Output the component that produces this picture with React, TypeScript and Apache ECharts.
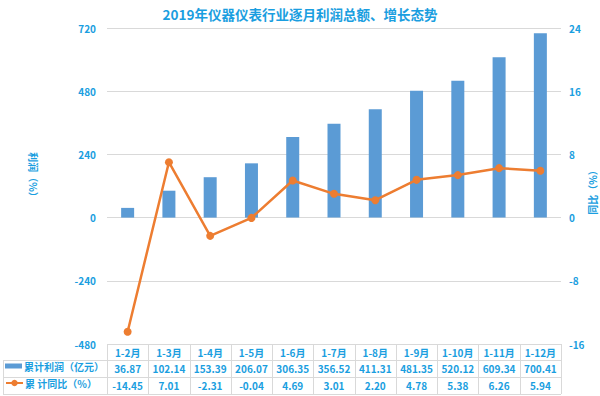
import React, { useEffect, useRef } from "react";
import * as echarts from "echarts";

const months = ["1-2月", "1-3月", "1-4月", "1-5月", "1-6月", "1-7月", "1-8月", "1-9月", "1-10月", "1-11月", "1-12月"];
const profit = [36.87, 102.14, 153.39, 206.07, 306.35, 356.52, 411.31, 481.35, 520.12, 609.34, 700.41];
const growth = [-14.45, 7.01, -2.31, -0.04, 4.69, 3.01, 2.2, 4.78, 5.38, 6.26, 5.94];
const profitName = "累计利润（亿元）";
const growthName = "累 计同比（%）";

const TXT = "#1a9ee0";
const FONT = "'Noto Sans CJK SC', 'Open Sans', sans-serif";
const GRID_L = 107;
const GRID_R = 561;
const GRID_T = 28;
const GRID_B = 344;
const ROW1 = 360;
const ROW2 = 377;
const ROW3 = 394;
const LINE_C = "#d9d9d9";

export default function App() {
  const ref = useRef<HTMLDivElement>(null);
  useEffect(() => {
    if (!ref.current) return;
    const chart = echarts.init(ref.current, undefined, { renderer: "svg" });
    const colW = (GRID_R - GRID_L) / months.length;
    const tableLines: any[] = [];
    const ls = { stroke: LINE_C, lineWidth: 1 };
    tableLines.push({ type: "line", shape: { x1: GRID_L, y1: GRID_B + 0.5, x2: GRID_R, y2: GRID_B + 0.5 }, style: ls });
    [ROW1, ROW2, ROW3].forEach((y) =>
      tableLines.push({ type: "line", shape: { x1: 3, y1: y + 0.5, x2: GRID_R, y2: y + 0.5 }, style: ls })
    );
    tableLines.push({ type: "line", shape: { x1: 3.5, y1: ROW1, x2: 3.5, y2: ROW3 }, style: ls });
    for (let i = 0; i <= months.length; i++) {
      const x = Math.round(GRID_L + i * colW) + 0.5;
      tableLines.push({ type: "line", shape: { x1: x, y1: GRID_B, x2: x, y2: ROW3 }, style: ls });
    }
    const axisLabelBase = { color: TXT, fontSize: 10, fontFamily: FONT, fontWeight: 600 };
    const catAxis = (data: any[], offset: number) => ({
      type: "category",
      data,
      position: "bottom",
      offset,
      gridIndex: 0,
      axisLine: { show: false },
      axisTick: { show: false },
      axisLabel: { ...axisLabelBase, margin: 3, interval: 0 },
    });
    chart.setOption({
      animation: false,
      backgroundColor: "#ffffff",
      title: {
        text: "2019年仪器仪表行业逐月利润总额、增长态势",
        left: "center",
        top: 2,
        textStyle: { color: TXT, fontSize: 13.5, fontWeight: "bold", fontFamily: FONT },
      },
      legend: [
        {
          data: [profitName],
          orient: "vertical",
          left: 5,
          top: 361,
          padding: 0,
          itemWidth: 17,
          itemHeight: 5,
          icon: "rect",
          textStyle: { ...axisLabelBase, padding: [0, 0, 0, -3] },
        },
        {
          data: [growthName],
          orient: "vertical",
          left: 5,
          top: 378,
          padding: 0,
          itemWidth: 17,
          itemHeight: 8,
          textStyle: { ...axisLabelBase, padding: [0, 0, 0, -3] },
        },
      ],
      grid: { left: GRID_L, right: 600 - GRID_R, top: GRID_T, bottom: 396 - GRID_B },
      xAxis: [
        catAxis(months, 0),
        catAxis(profit.map((v) => v.toFixed(2)), 16),
        catAxis(growth.map((v) => v.toFixed(2)), 33),
      ],
      yAxis: [
        {
          type: "value",
          min: -480,
          max: 720,
          interval: 240,
          axisLine: { show: false },
          axisTick: { show: false },
          splitLine: { lineStyle: { color: LINE_C } },
          axisLabel: { ...axisLabelBase, margin: 11 },
        },
        {
          type: "value",
          min: -16,
          max: 24,
          interval: 8,
          position: "right",
          axisLine: { show: false },
          axisTick: { show: false },
          splitLine: { show: false },
          axisLabel: { ...axisLabelBase, margin: 8 },
        },
      ],
      series: [
        {
          name: profitName,
          type: "bar",
          data: profit,
          barWidth: 13,
          xAxisIndex: 0,
          yAxisIndex: 0,
          itemStyle: { color: "#5b9bd5" },
        },
        {
          name: growthName,
          type: "line",
          data: growth,
          xAxisIndex: 0,
          yAxisIndex: 1,
          symbol: "circle",
          symbolSize: 8,
          lineStyle: { color: "#ed7d31", width: 2.5 },
          itemStyle: { color: "#ed7d31" },
        },
      ],
      graphic: [
        ...tableLines,
        {
          type: "text",
          x: 33,
          y: 177,
          rotation: -Math.PI / 2,
          style: { text: "利润（%）", fill: TXT, font: `600 10px ${FONT}`, align: "center", verticalAlign: "middle" },
        },
        {
          type: "text",
          x: 592,
          y: 190,
          rotation: Math.PI / 2,
          style: { text: "同比（%）", fill: TXT, font: `600 10px ${FONT}`, align: "center", verticalAlign: "middle" },
        },
      ],
    });
    return () => chart.dispose();
  }, []);
  return <div ref={ref} style={{ width: 600, height: 396, position: "absolute", left: 0, top: 0 }} />;
}
